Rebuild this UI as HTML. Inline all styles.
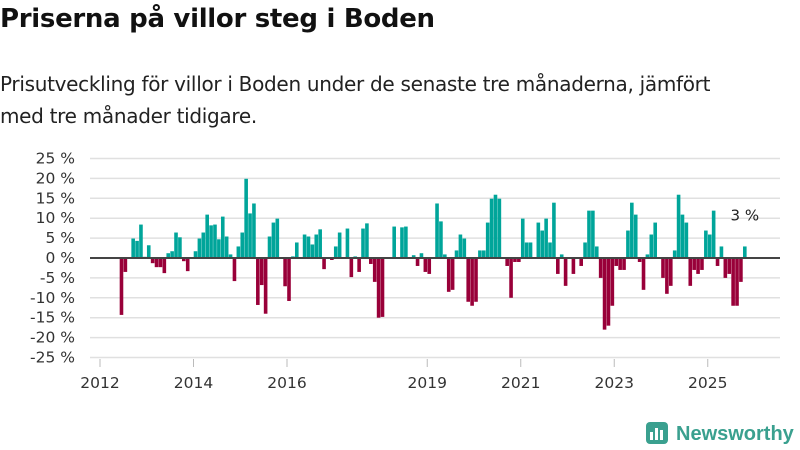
<!DOCTYPE html>
<html><head><meta charset="utf-8">
<style>
body{margin:0;width:800px;height:450px;background:#fff;font-family:"Liberation Sans","DejaVu Sans",sans-serif;overflow:hidden;position:relative}
h1{position:absolute;left:0;top:4px;margin:0;font-size:26px;font-weight:bold;color:#111;font-family:"DejaVu Sans","Liberation Sans",sans-serif;letter-spacing:-0.3px}
p.sub{position:absolute;left:0;top:68px;margin:0;font-size:20px;line-height:32px;color:#222;width:800px;font-family:"DejaVu Sans","Liberation Sans",sans-serif;letter-spacing:-0.3px}
svg{position:absolute;left:0;top:0}
</style></head><body>
<h1>Priserna på villor steg i Boden</h1>
<p class="sub">Prisutveckling för villor i Boden under de senaste tre månaderna, jämfört<br>med tre månader tidigare.</p>
<svg id="chart" width="800" height="450"></svg>
<script>
const startYear = 2012, startMonth = 5; // June 2012 (0-based month)
const values = [-14.3,-3.5,0,4.9,4.3,8.4,0.3,3.2,-1.3,-2.3,-2.3,-3.8,1.2,1.7,6.4,5.2,-0.8,-3.3,0,1.7,4.9,6.4,10.9,8.2,8.4,4.7,10.4,5.4,0.9,-5.8,2.9,6.4,19.9,11.2,13.7,-11.8,-6.8,-14,5.4,8.9,
9.9,0,-7.1,-10.8,0.4,3.9,0,5.9,5.4,3.4,5.9,7.2,-2.8,0,-0.5,2.9,6.4,0,7.4,-4.8,0.4,-3.5,7.4,8.7,-1.5,-6,-15,-14.8,0,0,7.9,0,7.7,7.9,0,0.7,-2,1.2,-3.5,-4,0,13.7,9.2,0.9,
-8.5,-8,1.9,5.9,4.9,-11,-12,-11,1.9,1.9,8.9,14.9,15.9,14.9,0,-2,-10,-1,-1,9.9,3.9,3.9,0,8.9,6.9,9.9,3.9,13.9,-4,0.9,-7,0,-4,0,-2,3.9,11.9,11.9,2.9,-5,-18,-17,-12,
-2,-3,-3,6.9,13.9,10.9,-1,-8,0.9,5.9,8.9,0,-5,-9,-7,1.9,15.9,10.9,8.9,-7,-3,-4,-3,6.9,5.9,11.9,-2,2.9,-5,-4,-12,-12,-6,2.9];
const yTicks = [25,20,15,10,5,0,-5,-10,-15,-20,-25];
const yTickLabels = ["25 %","20 %","15 %","10 %","5 %","0 %","-5 %","-10 %","-15 %","-20 %","-25 %"];
const xTickYears = [2012,2014,2016,2019,2021,2023,2025];
const lastLabel = "3 %";

const NS="http://www.w3.org/2000/svg";
const svg=document.getElementById('chart');
function y(v){return 258 - v*3.98;}
function x(monthsSince2012){return 100 + monthsSince2012*(46.75/12);}
function mk(tag,attrs){const e=document.createElementNS(NS,tag);for(const k in attrs)e.setAttribute(k,attrs[k]);svg.appendChild(e);return e;}

yTicks.forEach((t,i)=>{
  if(t!==0){const g=mk('line',{x1:90,x2:780,y1:y(t),y2:y(t),stroke:'#e0e0e0','stroke-width':1.5});
  
  }
  const l=mk('text',{x:75,y:y(t)+5,'text-anchor':'end','font-size':15.5,fill:'#333','font-family':'"DejaVu Sans","Liberation Sans",sans-serif'});
  l.textContent=yTickLabels[i];
  
  
});
xTickYears.forEach(yr=>{
  const xx=x((yr-2012)*12);
  const tk=mk('line',{x1:xx,x2:xx,y1:359,y2:367,stroke:'#bbb','stroke-width':1});
  
  
  const l=mk('text',{x:xx,y:388,'text-anchor':'middle','font-size':15.5,fill:'#333','font-family':'"DejaVu Sans","Liberation Sans",sans-serif'});
  l.textContent=yr;
  
  
});
values.forEach((v,i)=>{
  const m=startMonth+i;
  const x0=x(m)+0.2;
  const r=mk('rect',{x:x0,width:3.6,y:Math.min(y(v),y(0)),height:Math.abs(y(v)-y(0)),fill:v>=0?'#00a59a':'#990039'});
  
  
});
const z=mk('line',{x1:90,x2:780,y1:y(0),y2:y(0),stroke:'#444','stroke-width':2});


const li=values.length-1;
const lab=mk('text',{x:x(startMonth+li)+2,y:y(values[li])-26,'text-anchor':'middle','font-size':15,fill:'#222','font-family':'"DejaVu Sans","Liberation Sans",sans-serif'});
lab.textContent=lastLabel;


</script>
<svg width="800" height="450" style="pointer-events:none">
<rect x="646" y="422" width="22" height="22" rx="4" fill="#3aa08f"/>
<rect x="650" y="432" width="3" height="8" fill="#fff"/><rect x="655" y="428" width="3" height="12" fill="#fff"/><rect x="660" y="430" width="3" height="10" fill="#fff"/>
<text x="676" y="440" font-size="20" font-weight="bold" fill="#3aa08f" font-family="Liberation Sans, sans-serif">Newsworthy</text>
</svg>
</body></html>
